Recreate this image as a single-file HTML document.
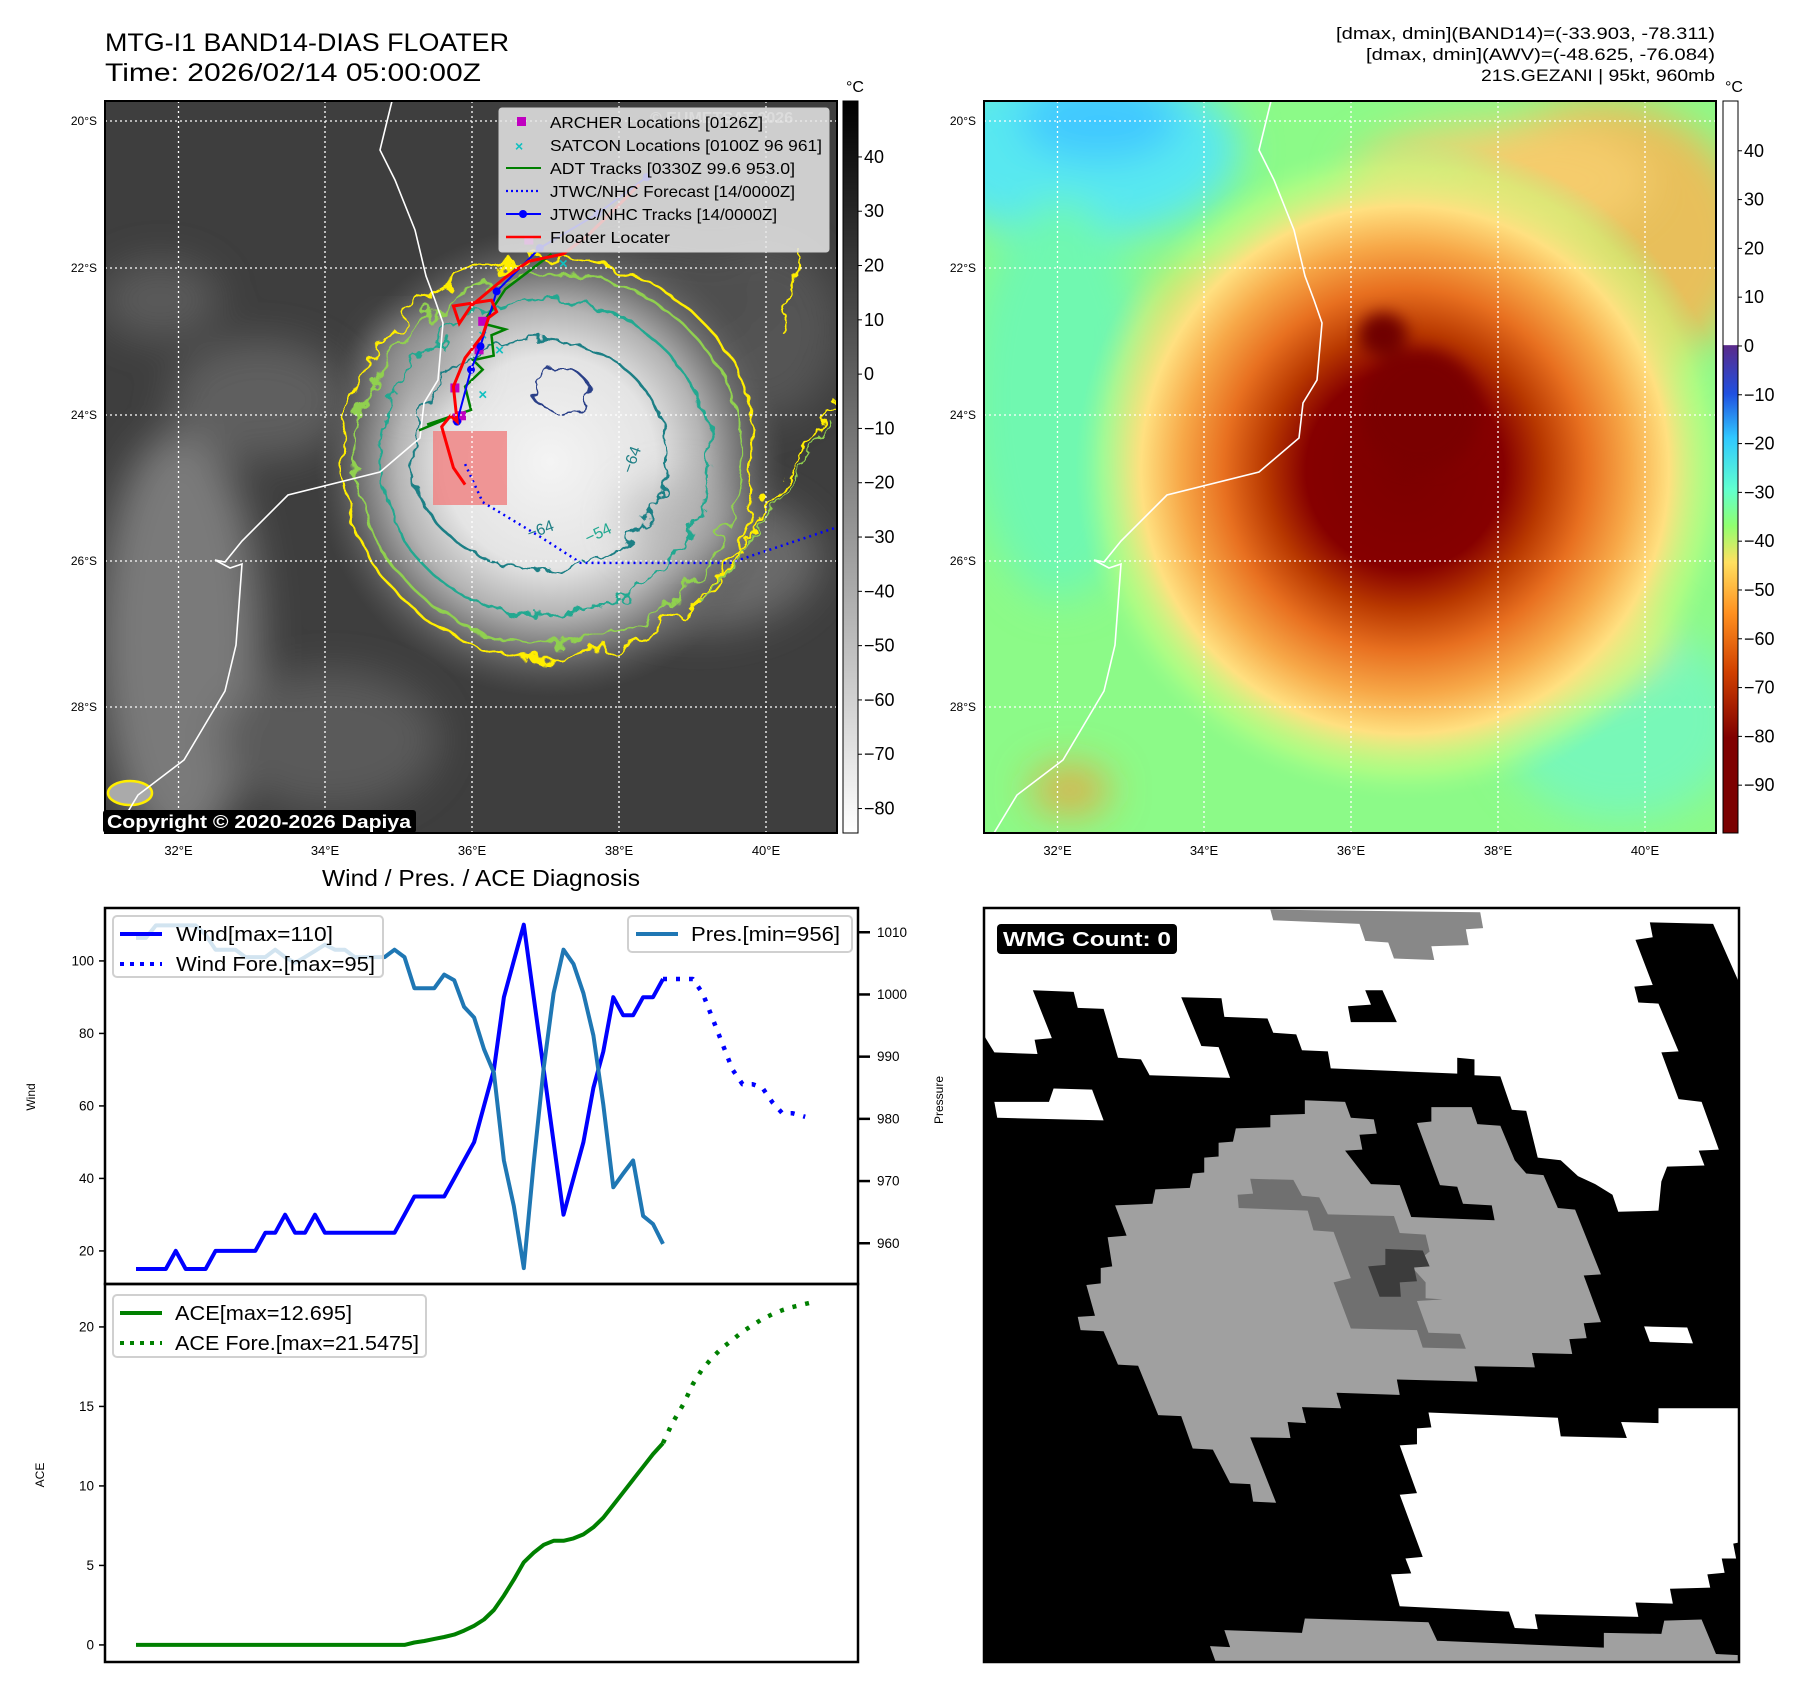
<!DOCTYPE html>
<html><head><meta charset="utf-8">
<style>
html,body{margin:0;padding:0;background:#fff;}
svg{display:block;font-family:"Liberation Sans",sans-serif;}
</style></head>
<body>
<svg id="fig" width="1797" height="1690" viewBox="0 0 1797 1690" xmlns="http://www.w3.org/2000/svg">
<defs>
  <clipPath id="clipM1"><rect x="105" y="101" width="732" height="732"/></clipPath>
  <clipPath id="clipM2"><rect x="984" y="101" width="732" height="732"/></clipPath>
  <clipPath id="clipW"><rect x="984" y="908" width="755" height="754"/></clipPath>
  <filter id="blur20"><feGaussianBlur stdDeviation="20"/></filter>
  <filter id="blur8"><feGaussianBlur stdDeviation="8"/></filter>
  <filter id="wig" x="-20%" y="-20%" width="140%" height="140%">
    <feTurbulence type="fractalNoise" baseFrequency="0.035" numOctaves="3" seed="4"/>
    <feDisplacementMap in="SourceGraphic" scale="30"/>
  </filter>
  <filter id="wig2" x="-20%" y="-20%" width="140%" height="140%">
    <feTurbulence type="fractalNoise" baseFrequency="0.05" numOctaves="3" seed="9"/>
    <feDisplacementMap in="SourceGraphic" scale="22"/>
  </filter>
  <radialGradient id="cyc1" cx="0.5" cy="0.5" r="0.5">
    <stop offset="0" stop-color="#f4f4f4"/><stop offset="0.45" stop-color="#e4e4e4"/>
    <stop offset="0.65" stop-color="#b4b4b4"/><stop offset="0.82" stop-color="#707070"/>
    <stop offset="1" stop-color="#555" stop-opacity="0"/>
  </radialGradient>
  <radialGradient id="cyc2" cx="0.5" cy="0.5" r="0.5">
    <stop offset="0" stop-color="#7c0000"/><stop offset="0.3" stop-color="#860000"/>
    <stop offset="0.42" stop-color="#b83800"/><stop offset="0.55" stop-color="#e87020"/>
    <stop offset="0.68" stop-color="#f7a848"/><stop offset="0.8" stop-color="#ffe080"/>
    <stop offset="0.92" stop-color="#c8ff80" stop-opacity="0.5"/><stop offset="1" stop-color="#a0ff90" stop-opacity="0"/>
  </radialGradient>
  <linearGradient id="cb1" x1="0" y1="0" x2="0" y2="1">
    <stop offset="0" stop-color="#000"/><stop offset="1" stop-color="#fff"/>
  </linearGradient>
  <linearGradient id="cb2" x1="0" y1="0" x2="0" y2="1">
    <stop offset="0" stop-color="#fff"/><stop offset="0.333" stop-color="#fff"/>
    <stop offset="0.334" stop-color="#5a2a8a"/><stop offset="0.4" stop-color="#2050e0"/>
    <stop offset="0.46" stop-color="#30c8ff"/><stop offset="0.53" stop-color="#60ffd0"/>
    <stop offset="0.58" stop-color="#90ff70"/><stop offset="0.63" stop-color="#ffe060"/>
    <stop offset="0.7" stop-color="#ff9020"/><stop offset="0.78" stop-color="#d04000"/>
    <stop offset="0.87" stop-color="#800000"/><stop offset="1" stop-color="#7a0000"/>
  </linearGradient>
</defs>

<!-- titles -->
<text x="105" y="51" font-size="25" textLength="404" lengthAdjust="spacingAndGlyphs">MTG-I1 BAND14-DIAS FLOATER</text>
<text x="105" y="81" font-size="25" textLength="376" lengthAdjust="spacingAndGlyphs">Time: 2026/02/14 05:00:00Z</text>
<g font-size="17" text-anchor="end">
  <text x="1715" y="39" textLength="379" lengthAdjust="spacingAndGlyphs">[dmax, dmin](BAND14)=(-33.903, -78.311)</text>
  <text x="1715" y="60" textLength="349" lengthAdjust="spacingAndGlyphs">[dmax, dmin](AWV)=(-48.625, -76.084)</text>
  <text x="1715" y="81" textLength="234" lengthAdjust="spacingAndGlyphs">21S.GEZANI | 95kt, 960mb</text>
</g>

<!-- MAP 1 -->
<g clip-path="url(#clipM1)">
  <rect x="105" y="101" width="732" height="732" fill="#3e3e3e"/>
  <g filter="url(#blur20)">
    <ellipse cx="180" cy="640" rx="80" ry="210" fill="#7a7a7a"/>
    <ellipse cx="260" cy="400" rx="90" ry="60" fill="#5e5e5e"/>
    <ellipse cx="160" cy="300" rx="60" ry="40" fill="#5a5a5a"/>
    <ellipse cx="330" cy="740" rx="110" ry="70" fill="#5a5a5a"/>
    <ellipse cx="700" cy="560" rx="120" ry="70" fill="#6a6a6a"/>
    <ellipse cx="760" cy="330" rx="80" ry="90" fill="#555"/>
    <ellipse cx="650" cy="300" rx="120" ry="60" fill="#4f4f4f"/>
  </g>
  <circle cx="550" cy="462" r="235" fill="url(#cyc1)"/>
  <g filter="url(#blur20)" opacity="0.6">
    <ellipse cx="680" cy="520" rx="60" ry="40" fill="#b0b0b0"/>
    <ellipse cx="420" cy="360" rx="50" ry="40" fill="#a0a0a0"/>
  </g>
  <g fill="none">
    <ellipse cx="550" cy="458" rx="208" ry="200" stroke="#ffee00" stroke-width="2.5" filter="url(#wig)"/>
    <ellipse cx="550" cy="458" rx="192" ry="186" stroke="#90d050" stroke-width="2.5" filter="url(#wig)"/>
    <ellipse cx="545" cy="458" rx="165" ry="158" stroke="#20a890" stroke-width="2.5" filter="url(#wig2)"/>
    <ellipse cx="540" cy="455" rx="128" ry="115" stroke="#1f7f85" stroke-width="2.5" filter="url(#wig2)"/>
    <ellipse cx="560" cy="390" rx="28" ry="22" stroke="#2b3f88" stroke-width="2.5" filter="url(#wig2)"/>
    <path d="M690,610 C740,560 790,470 835,400" stroke="#ffee00" stroke-width="2.5" filter="url(#wig2)"/>
    <path d="M700,600 C750,550 790,480 830,420" stroke="#90d050" stroke-width="2" filter="url(#wig2)"/>
    <path d="M780,330 C790,290 800,270 800,250" stroke="#ffee00" stroke-width="2.5" filter="url(#wig2)"/>
    <ellipse cx="130" cy="793" rx="22" ry="12" stroke="#ffee00" stroke-width="2.5" fill="#aaa"/>
  </g>
  <g font-size="16">
    <text x="622" y="470" fill="#1f7f85" transform="rotate(-70 630 465)">−64</text>
    <text x="527" y="535" fill="#1f7f85" transform="rotate(-20 540 530)">−64</text>
    <text x="585" y="540" fill="#20a890" transform="rotate(-25 595 535)">−54</text>
  </g>
  <polyline id="coast1" fill="none" stroke="#fff" stroke-width="1.6"
    points="392,101 380,150 395,180 415,230 426,276 435,300 443,323 438,380 424,403 420,438 380,472 288,495 242,541 225,562 215,560 230,568 242,564 236,645 225,691 184,760 138,795 115,833"/>
  <rect x="433" y="431" width="74" height="74" fill="#f08080" fill-opacity="0.8"/>
  <g id="tracks"></g>
  <g stroke="#fff" stroke-width="1.3" stroke-dasharray="2,3">
    <line x1="178.5" y1="101" x2="178.5" y2="833"/><line x1="325" y1="101" x2="325" y2="833"/>
    <line x1="472" y1="101" x2="472" y2="833"/><line x1="619" y1="101" x2="619" y2="833"/>
    <line x1="766" y1="101" x2="766" y2="833"/>
    <line x1="105" y1="121" x2="837" y2="121"/><line x1="105" y1="268" x2="837" y2="268"/>
    <line x1="105" y1="415" x2="837" y2="415"/><line x1="105" y1="561" x2="837" y2="561"/>
    <line x1="105" y1="707" x2="837" y2="707"/>
  </g>
  <text x="650" y="123" font-size="16" font-weight="bold" fill="#ddd" fill-opacity="0.6">© EUMETSAT 2026</text>
</g>
<rect x="105" y="101" width="732" height="732" fill="none" stroke="#000" stroke-width="2"/>

<!-- map 1 legend -->
<g>
  <rect x="499" y="108" width="330" height="144" rx="3" fill="#e8e8e8" fill-opacity="0.85" stroke="#ccc"/>
  <g font-size="16" fill="#000">
    <rect x="517" y="117" width="9" height="9" fill="#c000c0"/><text x="550" y="128" textLength="213" lengthAdjust="spacingAndGlyphs">ARCHER Locations [0126Z]</text>
    <text x="515" y="151" fill="#10c0c0" font-weight="bold" font-size="14">×</text><text x="550" y="151" textLength="272" lengthAdjust="spacingAndGlyphs">SATCON Locations [0100Z 96 961]</text>
    <line x1="506" y1="168" x2="541" y2="168" stroke="#008000" stroke-width="2"/><text x="550" y="174" textLength="245" lengthAdjust="spacingAndGlyphs">ADT Tracks [0330Z 99.6 953.0]</text>
    <line x1="506" y1="191" x2="541" y2="191" stroke="#0000ff" stroke-width="2.2" stroke-dasharray="2,3"/><text x="550" y="197" textLength="245" lengthAdjust="spacingAndGlyphs">JTWC/NHC Forecast [14/0000Z]</text>
    <line x1="506" y1="214" x2="541" y2="214" stroke="#0000ff" stroke-width="2"/><circle cx="523" cy="214" r="4" fill="#0000ff"/><text x="550" y="220" textLength="227" lengthAdjust="spacingAndGlyphs">JTWC/NHC Tracks [14/0000Z]</text>
    <line x1="506" y1="237" x2="541" y2="237" stroke="#ff0000" stroke-width="2.5"/><text x="550" y="243" textLength="120" lengthAdjust="spacingAndGlyphs">Floater Locater</text>
  </g>
</g>
<g>
  <rect x="103" y="810" width="313" height="23" rx="3" fill="#000"/>
  <text x="107" y="828" font-size="18" font-weight="bold" fill="#fff" textLength="304" lengthAdjust="spacingAndGlyphs">Copyright © 2020-2026 Dapiya</text>
</g>

<!-- map axes labels -->
<g font-size="12" text-anchor="end">
  <text x="97" y="125">20°S</text><text x="97" y="272">22°S</text><text x="97" y="419">24°S</text><text x="97" y="565">26°S</text><text x="97" y="711">28°S</text>
</g>
<g font-size="13" text-anchor="middle">
  <text x="178.5" y="855">32°E</text><text x="325" y="855">34°E</text><text x="472" y="855">36°E</text><text x="619" y="855">38°E</text><text x="766" y="855">40°E</text>
</g>
<g font-size="12" text-anchor="end">
  <text x="976" y="125">20°S</text><text x="976" y="272">22°S</text><text x="976" y="419">24°S</text><text x="976" y="565">26°S</text><text x="976" y="711">28°S</text>
</g>
<g font-size="13" text-anchor="middle">
  <text x="1057.5" y="855">32°E</text><text x="1204" y="855">34°E</text><text x="1351" y="855">36°E</text><text x="1498" y="855">38°E</text><text x="1645" y="855">40°E</text>
</g>

<!-- colorbar 1 -->
<g>
  <rect x="843" y="101" width="15" height="732" fill="url(#cb1)" stroke="#000" stroke-width="1"/>
  <text x="855" y="92" font-size="16" text-anchor="middle">°C</text>
  <g id="cb1ticks" font-size="18"></g>
</g>
<!-- colorbar 2 -->
<g>
  <rect x="1723" y="101" width="15" height="732" fill="url(#cb2)" stroke="#000" stroke-width="1"/>
  <text x="1734" y="92" font-size="16" text-anchor="middle">°C</text>
  <g id="cb2ticks" font-size="18"></g>
</g>

<!-- MAP 2 -->
<g clip-path="url(#clipM2)">
  <rect x="984" y="101" width="732" height="732" fill="#8cfa88"/>
  <g filter="url(#blur20)">
    <ellipse cx="1080" cy="150" rx="160" ry="90" fill="#58e8f0"/>
    <ellipse cx="1100" cy="120" rx="80" ry="40" fill="#40c8ff"/>
    <ellipse cx="1060" cy="400" rx="90" ry="200" fill="#70f8b0"/>
    <ellipse cx="1620" cy="720" rx="120" ry="100" fill="#78f8b8"/>
    <ellipse cx="1600" cy="240" rx="150" ry="140" fill="#ffb050" opacity="0.8"/>
    <ellipse cx="1500" cy="180" rx="150" ry="60" fill="#f8d070" opacity="0.8"/>
    <ellipse cx="1450" cy="640" rx="220" ry="70" fill="#ffe070" opacity="0.7"/>
    <ellipse cx="1200" cy="420" rx="70" ry="150" fill="#f0a040" opacity="0.7"/>
    <ellipse cx="1070" cy="790" rx="40" ry="25" fill="#ff9030" opacity="0.7"/>
  </g>
  <circle cx="1405" cy="470" r="330" fill="url(#cyc2)"/>
  <g filter="url(#blur8)">
    <ellipse cx="1383" cy="335" rx="24" ry="22" fill="#700000"/>
    <ellipse cx="1420" cy="410" rx="60" ry="60" fill="#7a0000"/>
  </g>
  <polyline fill="none" stroke="#fff" stroke-width="1.6"
    points="1271,101 1259,150 1274,180 1294,230 1305,276 1314,300 1322,323 1317,380 1303,403 1299,438 1259,472 1167,495 1121,541 1104,562 1094,560 1109,568 1121,564 1115,645 1104,691 1063,760 1017,795 994,833"/>
  <g stroke="#fff" stroke-width="1.3" stroke-dasharray="2,3">
    <line x1="1057.5" y1="101" x2="1057.5" y2="833"/><line x1="1204" y1="101" x2="1204" y2="833"/>
    <line x1="1351" y1="101" x2="1351" y2="833"/><line x1="1498" y1="101" x2="1498" y2="833"/>
    <line x1="1645" y1="101" x2="1645" y2="833"/>
    <line x1="984" y1="121" x2="1716" y2="121"/><line x1="984" y1="268" x2="1716" y2="268"/>
    <line x1="984" y1="415" x2="1716" y2="415"/><line x1="984" y1="561" x2="1716" y2="561"/>
    <line x1="984" y1="707" x2="1716" y2="707"/>
  </g>
</g>
<rect x="984" y="101" width="732" height="732" fill="none" stroke="#000" stroke-width="2"/>

<!-- WMG panel -->
<g clip-path="url(#clipW)">
  <rect x="984" y="908" width="755" height="754" fill="#000"/>
  <g transform="translate(984,908) scale(0.575,0.531) translate(-137,-80)">
    <polygon fill="#fff" points="137,80 1450,80 1450,220 1405,110 1295,107 1300,135 1270,140 1300,225 1268,228 1275,258 1310,260 1345,350 1315,352 1345,440 1385,445 1415,535 1380,537 1390,565 1325,567 1315,595 1310,650 1240,652 1230,620 1200,600 1170,585 1140,555 1100,550 1080,462 1055,460 1035,397 990,395 990,365 960,362 960,392 740,382 735,350 690,348 680,318 640,315 630,288 555,285 550,250 480,248 515,340 545,342 565,400 425,395 410,365 370,362 345,270 300,268 293,238 222,235 255,325 225,328 230,355 155,352 137,320"/>
    <polygon fill="#000" points="800,235 830,235 855,295 775,295 770,265 810,262"/>
    <polygon fill="#888" points="635,83 1000,88 1005,118 975,120 980,150 915,152 920,178 850,175 840,145 800,142 790,110 640,103"/>
    <polygon fill="#fff" points="155,445 250,445 258,420 325,422 345,480 160,475"/>
    <polygon fill="#fff" points="1285,868 1360,870 1370,900 1295,897"/>
    <polygon fill="#a0a0a0" points="365,640 430,637 435,610 495,607 500,580 520,578 520,550 545,548 545,522 570,520 575,495 635,493 635,470 695,468 695,442 765,445 775,475 815,478 820,505 790,507 795,535 765,537 810,600 860,602 880,662 1025,668 1020,640 970,637 960,605 930,602 890,485 915,482 915,455 985,455 995,487 1035,490 1060,555 1080,580 1110,583 1135,645 1165,648 1210,770 1180,772 1210,860 1180,862 1185,890 1155,892 1160,920 1090,918 1095,945 990,943 995,972 855,968 860,997 750,993 758,1022 690,1020 697,1050 665,1048 670,1078 600,1077 645,1200 605,1198 600,1165 565,1163 535,1100 500,1098 480,1037 440,1035 405,942 370,940 345,877 305,875 300,850 330,848 315,790 340,787 340,758 360,755 352,700 385,697"/>
    <polygon fill="#707070" points="600,590 675,592 690,622 720,625 735,657 850,660 860,692 905,695 912,727 880,755 905,785 905,815 935,817 890,820 910,880 965,882 975,910 900,908 890,875 775,872 745,785 775,777 745,690 710,687 700,650 580,645 578,620 605,618"/>
    <polygon fill="#3c3c3c" points="835,722 900,725 912,755 885,757 890,783 860,785 862,812 825,812 805,755 835,752"/>
    <polygon fill="#fff" points="910,1030 1135,1040 1140,1075 1255,1078 1245,1048 1310,1050 1310,1022 1450,1022 1450,1275 1440,1277 1445,1305 1420,1305 1425,1332 1395,1335 1400,1360 1330,1362 1335,1390 1270,1388 1275,1415 1095,1410 1100,1438 1060,1436 1050,1405 860,1395 845,1335 880,1333 870,1305 900,1302 860,1185 890,1182 860,1092 890,1090 890,1060 915,1058"/>
    <polygon fill="#a0a0a0" points="555,1440 690,1445 695,1418 910,1425 925,1460 1215,1473 1215,1445 1315,1447 1320,1422 1385,1420 1410,1485 1450,1487 1450,1500 540,1500 530,1470 565,1472"/>
  </g>
  <rect x="997" y="924" width="180" height="30" rx="4" fill="#000"/>
  <text x="1003" y="946" font-size="20" font-weight="bold" fill="#fff" textLength="168" lengthAdjust="spacingAndGlyphs">WMG Count: 0</text>
</g>
<rect x="984" y="908" width="755" height="754" fill="none" stroke="#000" stroke-width="2.5"/>

<!-- time series chart -->
<text x="481" y="886" font-size="23" text-anchor="middle" textLength="318" lengthAdjust="spacingAndGlyphs">Wind / Pres. / ACE Diagnosis</text>
<g id="ts"></g>
<rect x="105" y="908" width="753" height="376" fill="none" stroke="#000" stroke-width="2.5"/>
<rect x="105" y="1284" width="753" height="378" fill="none" stroke="#000" stroke-width="2.5"/>
<text transform="translate(35,1097) rotate(-90)" font-size="12" text-anchor="middle">Wind</text>
<text transform="translate(943,1100) rotate(-90)" font-size="12" text-anchor="middle">Pressure</text>
<text transform="translate(44,1475) rotate(-90)" font-size="12" text-anchor="middle">ACE</text>

<g>
  <rect x="113" y="916" width="270" height="61" rx="4" fill="#fff" fill-opacity="0.8" stroke="#d0d0d0" stroke-width="2"/>
  <line x1="120" y1="934" x2="162" y2="934" stroke="#0000ff" stroke-width="4"/>
  <text x="176" y="941" font-size="20" textLength="157" lengthAdjust="spacingAndGlyphs">Wind[max=110]</text>
  <line x1="120" y1="964" x2="162" y2="964" stroke="#0000ff" stroke-width="4" stroke-dasharray="4,6"/>
  <text x="176" y="971" font-size="20" textLength="199" lengthAdjust="spacingAndGlyphs">Wind Fore.[max=95]</text>
</g>
<g>
  <rect x="628" y="916" width="224" height="36" rx="4" fill="#fff" fill-opacity="0.8" stroke="#d0d0d0" stroke-width="2"/>
  <line x1="636" y1="934" x2="678" y2="934" stroke="#1f77b4" stroke-width="4"/>
  <text x="691" y="941" font-size="20" textLength="149" lengthAdjust="spacingAndGlyphs">Pres.[min=956]</text>
</g>
<g>
  <rect x="113" y="1295" width="313" height="62" rx="4" fill="#fff" fill-opacity="0.8" stroke="#d0d0d0" stroke-width="2"/>
  <line x1="120" y1="1313" x2="162" y2="1313" stroke="#008000" stroke-width="4"/>
  <text x="175" y="1320" font-size="20" textLength="177" lengthAdjust="spacingAndGlyphs">ACE[max=12.695]</text>
  <line x1="120" y1="1343" x2="162" y2="1343" stroke="#008000" stroke-width="4" stroke-dasharray="4,6"/>
  <text x="175" y="1350" font-size="20" textLength="244" lengthAdjust="spacingAndGlyphs">ACE Fore.[max=21.5475]</text>
</g>
</svg>

<script>
// ---- chart data ----
const windObs = [15,15,15,15,20,15,15,15,20,20,20,20,20,25,25,30,25,25,30,25,25,25,25,25,25,25,25,30,35,35,35,35,40,45,50,60,70,90,100,110,90,70,50,30,40,50,65,75,90,85,85,90,90,95];
const presObs = [1009.1,1009.1,1011.1,1011.1,1011.1,1011.1,1011.1,1009.6,1007.2,1007.2,1007.2,1006,1006,1006,1007.2,1006,1005.1,1006,1007,1008,1007.2,1007.2,1006,1006,1006,1006,1007.2,1006,1001,1001,1001,1003.2,1002.3,998,996.3,991.2,987.4,973.3,966,956,972.9,988.2,1000.2,1007.2,1004.9,1000.2,993.4,982.3,969,971.2,973.3,964.4,963.1,959.9];
const aceObs = [0,0,0,0,0,0,0,0,0,0,0,0,0,0,0,0,0,0,0,0,0,0,0,0,0,0,0,0,0.15,0.25,0.38,0.5,0.65,0.9,1.2,1.6,2.2,3.1,4.1,5.2,5.8,6.3,6.55,6.55,6.7,6.95,7.4,8.0,8.8,9.6,10.4,11.2,12.0,12.695];
const windForeT = [53,54,55,56,57,58,59,60,61,62,63,64,65,66,67.3];
const windFore = [95,95,95,95,91,84,77,70,66,66,65,61,58,58,57];
const aceForeT = [53,53.9,55.1,56,56.9,58,59,60,61,62,63,64,65,66,67,68];
const aceFore = [12.695,13.9,15.2,16.4,17.3,18.1,18.7,19.2,19.7,20.1,20.5,20.8,21.05,21.25,21.4,21.5475];
const windTicks = [20,40,60,80,100];
const presTicks = [960,970,980,990,1000,1010];
const aceTicks = [0,5,10,15,20];
const cb1Ticks = [40,30,20,10,0,-10,-20,-30,-40,-50,-60,-70,-80];
const cb2Ticks = [40,30,20,10,0,-10,-20,-30,-40,-50,-60,-70,-80,-90];
// ---- map track data (lon, lat south positive) ----
const redLon = [35.92,35.76,35.6,35.72,35.81,35.76,35.92,36.16,36.24,36.35,36.28,35.76,35.84,36.0,36.47,36.79,37.26,37.57,37.9,38.3];
const redLat = [25.1,24.87,24.31,24.16,24.24,23.76,23.37,23.06,22.82,22.74,22.58,22.66,22.9,22.66,22.27,22.05,21.95,21.72,21.4,21.0];
const blueLon = [35.81,36.0,36.13,36.35,36.94,37.73,38.4];
const blueLat = [24.24,23.53,23.21,22.46,21.87,21.4,20.9];
const foreLon = [35.92,36.16,36.94,37.5,39.54,40.95,41.2];
const foreLat = [24.82,25.34,25.81,26.17,26.17,25.7,25.6];
const adtLon = [35.29,35.84,35.4,36.0,35.92,36.16,36.03,36.31,36.28,36.47,36.16,36.47,37.1];
const adtLat = [24.36,24.13,24.28,24.08,23.76,23.53,23.4,23.34,23.06,22.98,22.9,22.43,21.95];
const archerLon = [36.16,36.11,35.78,35.87,35.81,36.79];
const archerLat = [22.87,23.26,23.78,24.16,24.19,21.76];
const satconLon = [36.16,36.39,36.16,37.26];
const satconLat = [23.06,23.26,23.87,22.08];

const NS = 'http://www.w3.org/2000/svg';
function mk(tag, attrs, parent){ const e=document.createElementNS(NS,tag); for(const k in attrs) e.setAttribute(k,attrs[k]); parent.appendChild(e); return e; }

// axis functions
const xT = t => 136 + t*9.943;
const yW = v => 908 + (114.6 - v)*3.625;
const yP = p => 908 + (1013.9 - p)*6.22;
const yA = a => 1284 + (22.7 - a)*15.9;
const lonX = lon => 105 + (lon-31)*73.2;
const latY = lat => 101 + (lat-19.86)*73.2;
const cb1Y = v => 101 + (50.3 - v)*5.43;
const cb2Y = v => 101 + (50.2 - v)*4.88;

const ts = document.getElementById('ts');
function line(xs, ys, stroke, w, dash, name){
  const pts = xs.map((x,i)=>x.toFixed(1)+','+ys[i].toFixed(1)).join(' ');
  const a = {points:pts, fill:'none', stroke:stroke, 'stroke-width':w, 'stroke-linejoin':'round'};
  if(dash) a['stroke-dasharray']=dash;
  const el = mk('polyline', a, ts);
  
  
  return el;
}
const idx = windObs.map((_,i)=>i);
line(idx.map(xT), windObs.map(yW), '#0000ff', 4, null, 'wind-line');
line(windForeT.map(xT), windFore.map(yW), '#0000ff', 4.5, '4,9', 'wind-forecast-line');
line(idx.map(xT), presObs.map(yP), '#1f77b4', 4, null, 'pressure-line');
line(idx.map(xT), aceObs.map(yA), '#008000', 4, null, 'ace-line');
line(aceForeT.map(xT), aceFore.map(yA), '#008000', 4.5, '4,9', 'ace-forecast-line');

windTicks.forEach(v=>{
  const y=yW(v);
  const t=mk('line',{x1:99,y1:y,x2:105,y2:y,stroke:'#000','stroke-width':1.5},ts);
   
  const l=mk('text',{x:94,y:y+4.5,'font-size':13.5,'text-anchor':'end'},ts); l.textContent=v;
   
});
presTicks.forEach(v=>{
  const y=yP(v);
  const t=mk('line',{x1:858,y1:y,x2:870,y2:y,stroke:'#000','stroke-width':2.5},ts);
   
  const l=mk('text',{x:877,y:y+4.5,'font-size':13.5},ts); l.textContent=v;
   
});
aceTicks.forEach(v=>{
  const y=yA(v);
  const t=mk('line',{x1:99,y1:y,x2:105,y2:y,stroke:'#000','stroke-width':1.5},ts);
   
  const l=mk('text',{x:94,y:y+4.5,'font-size':13.5,'text-anchor':'end'},ts); l.textContent=v;
   
});

// colorbar ticks
const fmt = v => v<0 ? '\u2212'+(-v) : ''+v;
const g1=document.getElementById('cb1ticks');
cb1Ticks.forEach(v=>{
  const y=cb1Y(v);
  mk('line',{x1:858,y1:y,x2:862,y2:y,stroke:'#000'},g1);
  const l=mk('text',{x:864,y:y+6},g1); l.textContent=fmt(v);
   
});
const g2=document.getElementById('cb2ticks');
cb2Ticks.forEach(v=>{
  const y=cb2Y(v);
  mk('line',{x1:1738,y1:y,x2:1742,y2:y,stroke:'#000'},g2);
  const l=mk('text',{x:1744,y:y+6},g2); l.textContent=fmt(v);
   
});

// map tracks
const tg=document.getElementById('tracks');
function track(lons,lats,stroke,w,dash,name){
  const a={points:lons.map((l,i)=>lonX(l).toFixed(1)+','+latY(lats[i]).toFixed(1)).join(' '),fill:'none',stroke:stroke,'stroke-width':w};
  if(dash) a['stroke-dasharray']=dash;
  const el=mk('polyline',a,tg);
  
  
}
track(foreLon,foreLat,'#0000ff',2.5,'2,4','jtwc-forecast-track');
track(adtLon,adtLat,'#008000',2.5,null,'adt-track');
archerLon.forEach((l,i)=>{
  const r=mk('rect',{x:lonX(l)-4.5,y:latY(archerLat[i])-4.5,width:9,height:9,fill:'#c000c0'},tg);
   
});
satconLon.forEach((l,i)=>{
  const t=mk('text',{x:lonX(l),y:latY(satconLat[i])+5,'font-size':15,'font-weight':'bold',fill:'#10c0c0','text-anchor':'middle'},tg);
  t.textContent='×';
   
});
track(blueLon,blueLat,'#0000ff',2,null,'jtwc-track');
blueLon.forEach((l,i)=>{
  const c=mk('circle',{cx:lonX(l),cy:latY(blueLat[i]),r:4,fill:'#0000ff'},tg);
   
});
track(redLon,redLat,'#ff0000',3,null,'floater-locater-track');
</script>
</body></html>
